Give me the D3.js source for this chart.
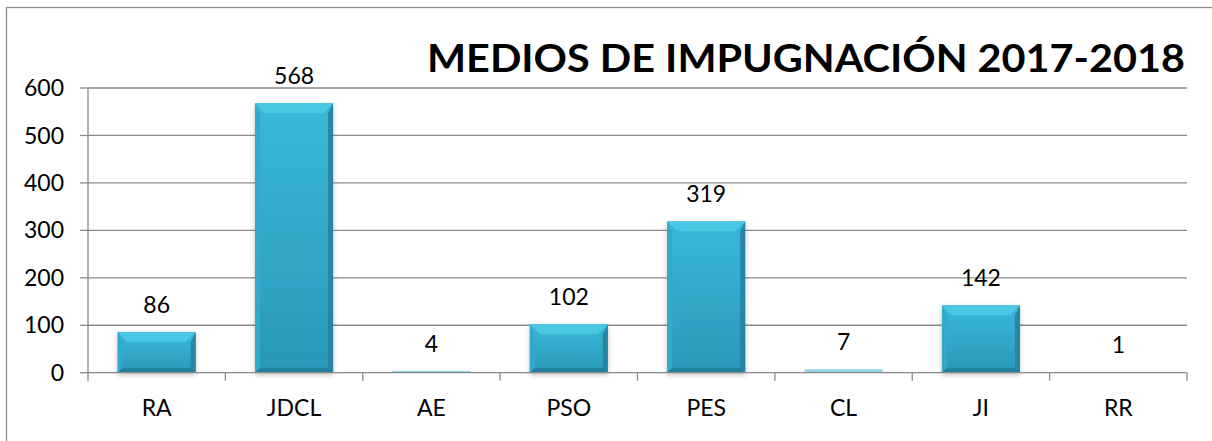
<!DOCTYPE html>
<html><head><meta charset="utf-8">
<script src="https://cdn.jsdelivr.net/npm/d3@7/dist/d3.min.js"></script>
<style>body{margin:0;background:#fff;}svg{display:block;}</style>
</head><body><svg id="c" width="1212" height="441"></svg>
<script>
const categories = ["RA","JDCL","AE","PSO","PES","CL","JI","RR"];
const values = [86,568,4,102,319,7,142,1];
const yTicks = [0,100,200,300,400,500,600];
const title = "MEDIOS DE IMPUGNACIÓN 2017-2018";

const W = 1212, H = 441;
const m = {left:88, right:25, top:88, bottom:68};
const svg = d3.select("#c");
const font = "Lato, 'Open Sans', sans-serif";
const fs = 23;

const x = d3.scaleBand().domain(categories).range([m.left, W - m.right]).paddingInner(0.432).paddingOuter(0.216);
const y = d3.scaleLinear().domain([0,600]).range([H - m.bottom - 0.3, m.top]);

const defs = svg.append("defs");
const g1 = defs.append("linearGradient").attr("id","face").attr("x1",0).attr("y1",0).attr("x2",0).attr("y2",1);
g1.append("stop").attr("offset","0%").attr("stop-color","#3ab8d8");
g1.append("stop").attr("offset","100%").attr("stop-color","#2a98ba");
const f = defs.append("filter").attr("id","sh").attr("x","-20%").attr("y","-20%").attr("width","140%").attr("height","140%");
f.append("feGaussianBlur").attr("in","SourceAlpha").attr("stdDeviation",2.5).attr("result","b");
f.append("feOffset").attr("in","b").attr("dx",0).attr("dy",2).attr("result","o");
f.append("feComponentTransfer").attr("in","o").attr("result","o2").append("feFuncA").attr("type","linear").attr("slope",0.25);
const mg = f.append("feMerge"); mg.append("feMergeNode").attr("in","o2"); mg.append("feMergeNode").attr("in","SourceGraphic");

// frame
svg.append("rect").attr("x",6.5).attr("y",7.5).attr("width",W).attr("height",H).attr("fill","none").attr("stroke","#8c8c8c").attr("stroke-width",1.3);

// gridlines
svg.append("g").selectAll("line").data(yTicks.filter(d=>d>0)).join("line")
  .attr("x1",m.left).attr("x2",W-m.right).attr("y1",d=>y(d)).attr("y2",d=>y(d))
  .attr("stroke","#8a8a8a").attr("stroke-width",1.3);

// bars
const bars = svg.append("g");
values.forEach((v,i)=>{
  const bx = x(categories[i]), bw = x.bandwidth(), by = y(v), bh = y(0) - y(v);
  const gb = bars.append("g").attr("filter", bh > 6 ? "url(#sh)" : null);
  if (bh < 6) {
    gb.append("rect").attr("x",bx).attr("y",by).attr("width",bw).attr("height",bh).attr("fill","#8fd3e6");
    return;
  }
  const b = Math.min(10, bh/2, bw/2);
  gb.append("rect").attr("x",bx).attr("y",by).attr("width",bw).attr("height",bh).attr("fill","url(#face)");
  gb.append("polygon").attr("points",[[bx,by],[bx+bw,by],[bx+bw-b,by+b],[bx+b,by+b]].join(" ")).attr("fill","#4cc6e4");
  gb.append("polygon").attr("points",[[bx,by],[bx+b*0.5,by+b],[bx+b*0.5,by+bh-b*0.5],[bx,by+bh]].join(" ")).attr("fill","#33abcb");
  gb.append("polygon").attr("points",[[bx+bw,by],[bx+bw-b*0.5,by+b],[bx+bw-b*0.5,by+bh-b*0.5],[bx+bw,by+bh]].join(" ")).attr("fill","#2686a6");
  gb.append("polygon").attr("points",[[bx,by+bh],[bx+b*0.5,by+bh-b*0.5],[bx+bw-b*0.5,by+bh-b*0.5],[bx+bw,by+bh]].join(" ")).attr("fill","#24809f");
});

// axes
const axisColor = "#8a8a8a";
svg.append("line").attr("x1",m.left).attr("x2",m.left).attr("y1",y(600)).attr("y2",y(0)).attr("stroke",axisColor).attr("stroke-width",1.3);
svg.append("line").attr("x1",m.left).attr("x2",W-m.right).attr("y1",y(0)).attr("y2",y(0)).attr("stroke",axisColor).attr("stroke-width",1.3);
svg.append("g").selectAll("line").data(yTicks).join("line")
  .attr("x1",m.left-8).attr("x2",m.left).attr("y1",d=>y(d)).attr("y2",d=>y(d)).attr("stroke",axisColor).attr("stroke-width",1.3);
const bounds = categories.map(c=>x(c) - x.step()*x.paddingOuter()).concat([W-m.right]);
svg.append("g").selectAll("line").data(bounds).join("line")
  .attr("x1",d=>d).attr("x2",d=>d).attr("y1",y(0)).attr("y2",y(0)+8).attr("stroke",axisColor).attr("stroke-width",1.3);

// y labels
svg.append("g").selectAll("text").data(yTicks).join("text")
  .attr("x",64).attr("y",d=>y(d)).attr("dy","0.35em").attr("text-anchor","end")
  .attr("font-family",font).attr("font-size",fs).attr("fill","#000").text(d=>d);
// x labels
svg.append("g").selectAll("text").data(categories).join("text")
  .attr("x",d=>x(d)+x.bandwidth()/2).attr("y",416).attr("text-anchor","middle")
  .attr("font-family",font).attr("font-size",fs).attr("fill","#000").text(d=>d);
// value labels
svg.append("g").selectAll("text").data(values).join("text")
  .attr("x",(d,i)=>x(categories[i])+x.bandwidth()/2).attr("y",d=>y(d)-19).attr("text-anchor","middle")
  .attr("font-family",font).attr("font-size",fs).attr("fill","#000").text(d=>d);

// title
svg.append("text").attr("x",1185).attr("y",72).attr("text-anchor","end")
  .attr("font-family",font).attr("font-weight","bold").attr("font-size",38).attr("fill","#000")
  .attr("textLength",758).attr("lengthAdjust","spacingAndGlyphs").text(title);
</script></body></html>
